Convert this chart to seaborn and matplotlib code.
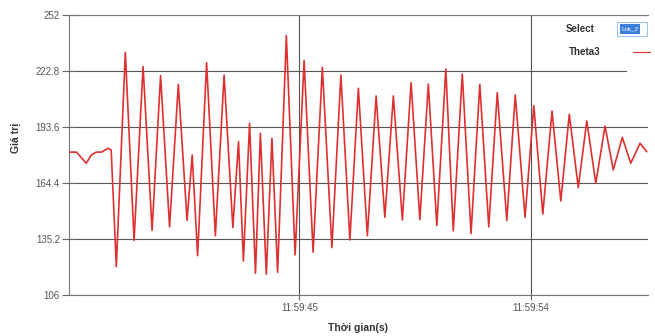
import matplotlib
matplotlib.use("Agg")
import matplotlib.pyplot as plt
from matplotlib.patches import Rectangle
from matplotlib.ticker import FixedLocator, FuncFormatter
import seaborn as sns
import pandas as pd

# ---- data (seconds past 11:59:00, value) ----
times = [36.06, 36.33, 36.71, 36.91, 37.10, 37.30, 37.56, 37.68, 37.88, 38.23,
         38.57, 38.92, 39.27, 39.60, 39.95, 40.29, 40.63, 40.83, 41.04, 41.39,
         41.73, 42.07, 42.41, 42.63, 42.82, 43.06, 43.29, 43.48, 43.71, 43.93,
         44.15, 44.49, 44.83, 45.18, 45.53, 45.89, 46.26, 46.61, 46.96, 47.29,
         47.64, 47.98, 48.32, 48.65, 49.00, 49.34, 49.68, 50.01, 50.34, 50.69,
         50.98, 51.33, 51.67, 52.01, 52.36, 52.69, 53.06, 53.39, 53.77, 54.11,
         54.46, 54.82, 55.16, 55.49, 55.84, 56.17, 56.52, 56.88, 57.20, 57.55,
         57.88, 58.24, 58.50]
theta3 = [180.5, 180.5, 174.7, 179.0, 180.5, 180.5, 182.5, 181.6, 120.8, 232.5,
          134.5, 225.1, 139.7, 220.4, 141.5, 215.8, 144.9, 179.0, 126.5, 227.1,
          136.9, 220.7, 141.1, 186.0, 123.7, 195.5, 117.3, 190.3, 116.8, 187.7,
          117.8, 241.2, 126.9, 228.2, 128.3, 224.7, 130.7, 220.7, 134.7, 213.8,
          136.9, 209.8, 146.5, 209.8, 145.1, 216.7, 145.3, 216.0, 142.2, 223.8,
          139.4, 221.2, 138.0, 215.8, 141.5, 211.5, 144.8, 210.3, 146.5, 204.7,
          148.2, 201.9, 155.0, 200.2, 162.0, 196.7, 164.2, 194.1, 171.2, 188.2,
          174.7, 185.1, 180.7]
y_ticks = [106, 135.2, 164.4, 193.6, 222.8, 252]
x_ticks = [45, 54]
x_tick_labels = ["11:59:45", "11:59:54"]

sns.set_theme(style="white")
plt.rcParams["font.family"] = ["Liberation Sans", "DejaVu Sans"]

W, H = 655, 336
fig = plt.figure(figsize=(W / 100, H / 100), dpi=100)
ax = fig.add_axes([69 / W, 1 - 295 / H, (648 - 69) / W, (295 - 15) / H])

df = pd.DataFrame({"t": times, "v": theta3})
sns.lineplot(data=df, x="t", y="v", ax=ax, color="#dd3030", linewidth=1.2,
             estimator=None, sort=False, label="Theta3", zorder=3)
for ln in ax.get_lines():
    ln.set_solid_joinstyle("round")

ax.set_xlim(36.04, 58.55)
ax.set_ylim(106, 252)

ax.yaxis.set_major_locator(FixedLocator(y_ticks))
ax.yaxis.set_major_formatter(FuncFormatter(lambda v, p: f"{v:g}"))
ax.xaxis.set_major_locator(FixedLocator(x_ticks))
ax.set_xticklabels(x_tick_labels)

narrow = ["Liberation Sans Narrow", "Liberation Sans", "DejaVu Sans"]
for lab in ax.get_xticklabels() + ax.get_yticklabels():
    lab.set_family(narrow)
    lab.set_fontsize(7)
    lab.set_color("#555555")

ax.tick_params(axis="y", direction="inout", length=10, width=0.8,
               color="#666666", pad=1.5, left=True)
ax.tick_params(axis="x", direction="out", length=3.6, width=0.8,
               color="#666666", pad=2, bottom=True)

ax.grid(True, color="#555555", linewidth=0.8)
ax.set_axisbelow(True)
for s in ["left", "bottom", "top"]:
    ax.spines[s].set_visible(True)
    ax.spines[s].set_color("#777777")
    ax.spines[s].set_linewidth(0.8)
ax.spines["right"].set_visible(False)

ax.set_ylabel("Giá trị", fontsize=7.5, fontweight="bold", color="#333333")
ax.set_xlabel("Thời gian(s)", fontsize=7.5, fontweight="bold", color="#333333")
ax.yaxis.set_label_coords(-0.083, 0.56)
ax.xaxis.set_label_coords(0.5, -0.10)

# legend area
ax.add_patch(Rectangle((627 / W, 1 - 80 / H), (W - 627) / W, 20 / H,
                       transform=fig.transFigure, facecolor="white",
                       edgecolor="none", zorder=1))
leg = ax.legend(loc="upper right", bbox_to_anchor=(650 / W, 1 - 47 / H),
                bbox_transform=fig.transFigure, frameon=False,
                markerfirst=False, fontsize=7, handlelength=1.7,
                handletextpad=3.4, borderpad=0, borderaxespad=0)
for t in leg.get_texts():
    t.set_fontweight("bold")
    t.set_color("#333333")
leg.get_lines()[0].set_linewidth(0.8)

fig.text(580 / W, 1 - 29 / H, "Select", fontsize=7, fontweight="bold",
         color="#333333", ha="center", va="center")
fig.patches.append(Rectangle((617 / W, 1 - 36 / H), 30 / W, 14 / H,
                             transform=fig.transFigure, facecolor="white",
                             edgecolor="#9cc3ee", linewidth=0.8))
fig.patches.append(Rectangle((620 / W, 1 - 34 / H), 20 / W, 10 / H,
                             transform=fig.transFigure, facecolor="#3a7fdc",
                             edgecolor="none"))
fig.text(630 / W, 1 - 29 / H, "Lnk_2", fontsize=4.5, color="white",
         ha="center", va="center", family=narrow)

fig.savefig("out.png", dpi=100)
